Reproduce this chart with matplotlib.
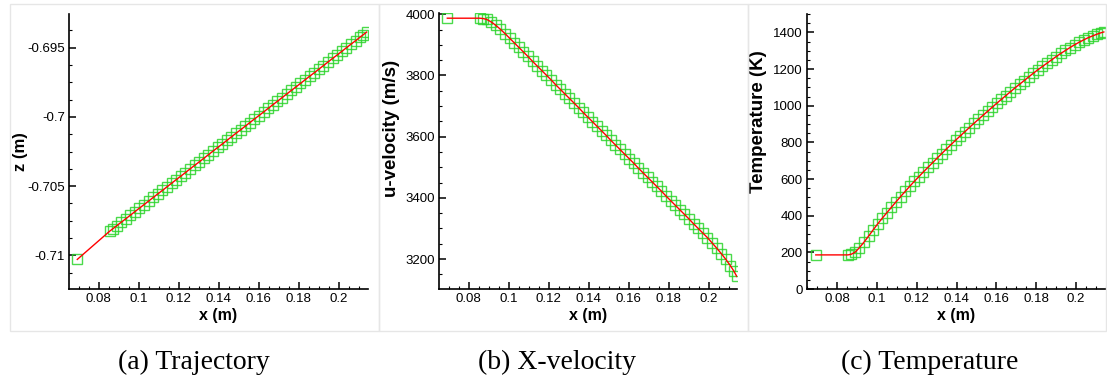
import matplotlib
matplotlib.use("Agg")
import matplotlib.pyplot as plt
from matplotlib.patches import Rectangle
from matplotlib.ticker import MultipleLocator, FuncFormatter

# marker positions along the trajectory (m)
x_pos = [0.0693, 0.0855, 0.0872, 0.0890, 0.0912, 0.0935, 0.0958, 0.0981, 0.1004, 0.1027,
         0.1050, 0.1073, 0.1096, 0.1119, 0.1142, 0.1165, 0.1188, 0.1211, 0.1234, 0.1257,
         0.1280, 0.1303, 0.1326, 0.1349, 0.1372, 0.1395, 0.1418, 0.1441, 0.1464, 0.1487,
         0.1510, 0.1533, 0.1556, 0.1579, 0.1602, 0.1625, 0.1648, 0.1671, 0.1694, 0.1717,
         0.1740, 0.1763, 0.1786, 0.1809, 0.1832, 0.1855, 0.1878, 0.1901, 0.1924, 0.1947,
         0.1970, 0.1993, 0.2016, 0.2039, 0.2062, 0.2085, 0.2108, 0.2124, 0.2140]

z_pos = [-0.71030, -0.70826, -0.70807, -0.70787, -0.70762, -0.70737, -0.70711, -0.70685, -0.70659, -0.70634,
         -0.70608, -0.70582, -0.70556, -0.70531, -0.70505, -0.70479, -0.70453, -0.70428, -0.70402, -0.70376,
         -0.70350, -0.70325, -0.70299, -0.70273, -0.70247, -0.70221, -0.70196, -0.70170, -0.70144, -0.70118,
         -0.70093, -0.70067, -0.70041, -0.70015, -0.69990, -0.69964, -0.69938, -0.69912, -0.69887, -0.69861,
         -0.69835, -0.69809, -0.69784, -0.69758, -0.69732, -0.69706, -0.69681, -0.69655, -0.69629, -0.69603,
         -0.69577, -0.69552, -0.69526, -0.69500, -0.69474, -0.69449, -0.69423, -0.69405, -0.69387]

u_vel = [3987, 3987, 3986, 3983, 3975, 3964, 3951, 3937, 3922, 3907,
         3892, 3877, 3862, 3846, 3831, 3816, 3801, 3786, 3770, 3755,
         3740, 3725, 3710, 3695, 3679, 3664, 3649, 3634, 3619, 3604,
         3588, 3573, 3558, 3543, 3528, 3513, 3497, 3482, 3467, 3452,
         3437, 3422, 3406, 3391, 3376, 3361, 3346, 3331, 3315, 3300,
         3285, 3270, 3253, 3236, 3218, 3199, 3178, 3162, 3143]

temp = [186, 186, 190, 200, 225, 255, 288, 322, 355, 386,
        416, 446, 475, 504, 532, 560, 587, 613, 639, 664,
        689, 714, 739, 763, 787, 811, 834, 857, 880, 903,
        925, 947, 969, 991, 1013, 1034, 1055, 1076, 1097, 1117,
        1137, 1157, 1177, 1196, 1214, 1232, 1250, 1268, 1285, 1301,
        1317, 1332, 1346, 1359, 1371, 1381, 1391, 1397, 1402]

captions = ["(a) Trajectory", "(b) X-velocity", "(c) Temperature"]
ylabels = ["z (m)", "u-velocity (m/s)", "Temperature (K)"]

plt.rcParams["font.family"] = ["Liberation Sans", "DejaVu Sans"]
plt.rcParams["axes.unicode_minus"] = False

W, H = 1107, 381
fig = plt.figure(figsize=(W / 100, H / 100), dpi=100)


def px_axes(left, right, top, bottom):
    return fig.add_axes([left / W, (H - bottom) / H, (right - left) / W, (bottom - top) / H])


# light grey frames around each sub-figure
for x0, x1 in [(10, 379), (379, 748), (748, 1106)]:
    fig.patches.append(Rectangle((x0 / W, (H - 331) / H), (x1 - x0) / W, (331 - 4) / H,
                                 transform=fig.transFigure, fill=False,
                                 edgecolor="#e6e6e6", linewidth=1))

boxes = [(69, 368, 14, 289), (439, 737, 13, 289), (807, 1106, 14, 289)]
xlims = [(0.06515, 0.2147), (0.06515, 0.2141), (0.0649, 0.2151)]
ylims = [(-0.71244, -0.69256), (3102, 4004), (0, 1500)]
ymajor = [0.005, 200, 200]
yminor = [0.00125, 50, 50]
ysizes = [12, 13.5, 13.5]
series = [z_pos, u_vel, temp]
label_right = [28, 400, 767]
label_mid = [0.5, 0.58, 0.61]

fmt = FuncFormatter(lambda v, p: "%g" % round(v, 6))

for i in range(3):
    ax = px_axes(*boxes[i])
    ax.plot(x_pos, series[i], linestyle="none", marker="s", markersize=7,
            markerfacecolor="none", markeredgecolor="#2bd42b", markeredgewidth=1,
            alpha=0.85, zorder=2)
    ax.plot(x_pos, series[i], color="red", linewidth=1, zorder=3)
    ax.set_xlim(*xlims[i])
    ax.set_ylim(*ylims[i])
    for s in ["top", "right"]:
        ax.spines[s].set_visible(False)
    for s in ["left", "bottom"]:
        ax.spines[s].set_linewidth(1.2)
    ax.xaxis.set_major_locator(MultipleLocator(0.02))
    ax.xaxis.set_minor_locator(MultipleLocator(0.005))
    ax.yaxis.set_major_locator(MultipleLocator(ymajor[i]))
    ax.yaxis.set_minor_locator(MultipleLocator(yminor[i]))
    ax.xaxis.set_major_formatter(fmt)
    ax.yaxis.set_major_formatter(fmt)
    ax.tick_params(which="major", direction="in", length=5, width=1.1, labelsize=9.5, pad=3)
    ax.tick_params(which="minor", direction="in", length=2.5, width=0.8)
    ax.set_xlabel("x (m)", fontsize=11.5, fontweight="bold", labelpad=2)
    ax.set_ylabel(ylabels[i], fontsize=ysizes[i], fontweight="bold")
    left, right, top, bottom = boxes[i]
    ax.yaxis.set_label_coords((label_right[i] - left) / (right - left), label_mid[i])
    ax.patch.set_alpha(0)

    cx = [194, 557, 930][i]
    fig.text(cx / W, (H - 362) / H, captions[i], ha="center", va="center",
             fontsize=20, family=["Liberation Serif", "DejaVu Serif"])

fig.savefig("out.png", dpi=100)
